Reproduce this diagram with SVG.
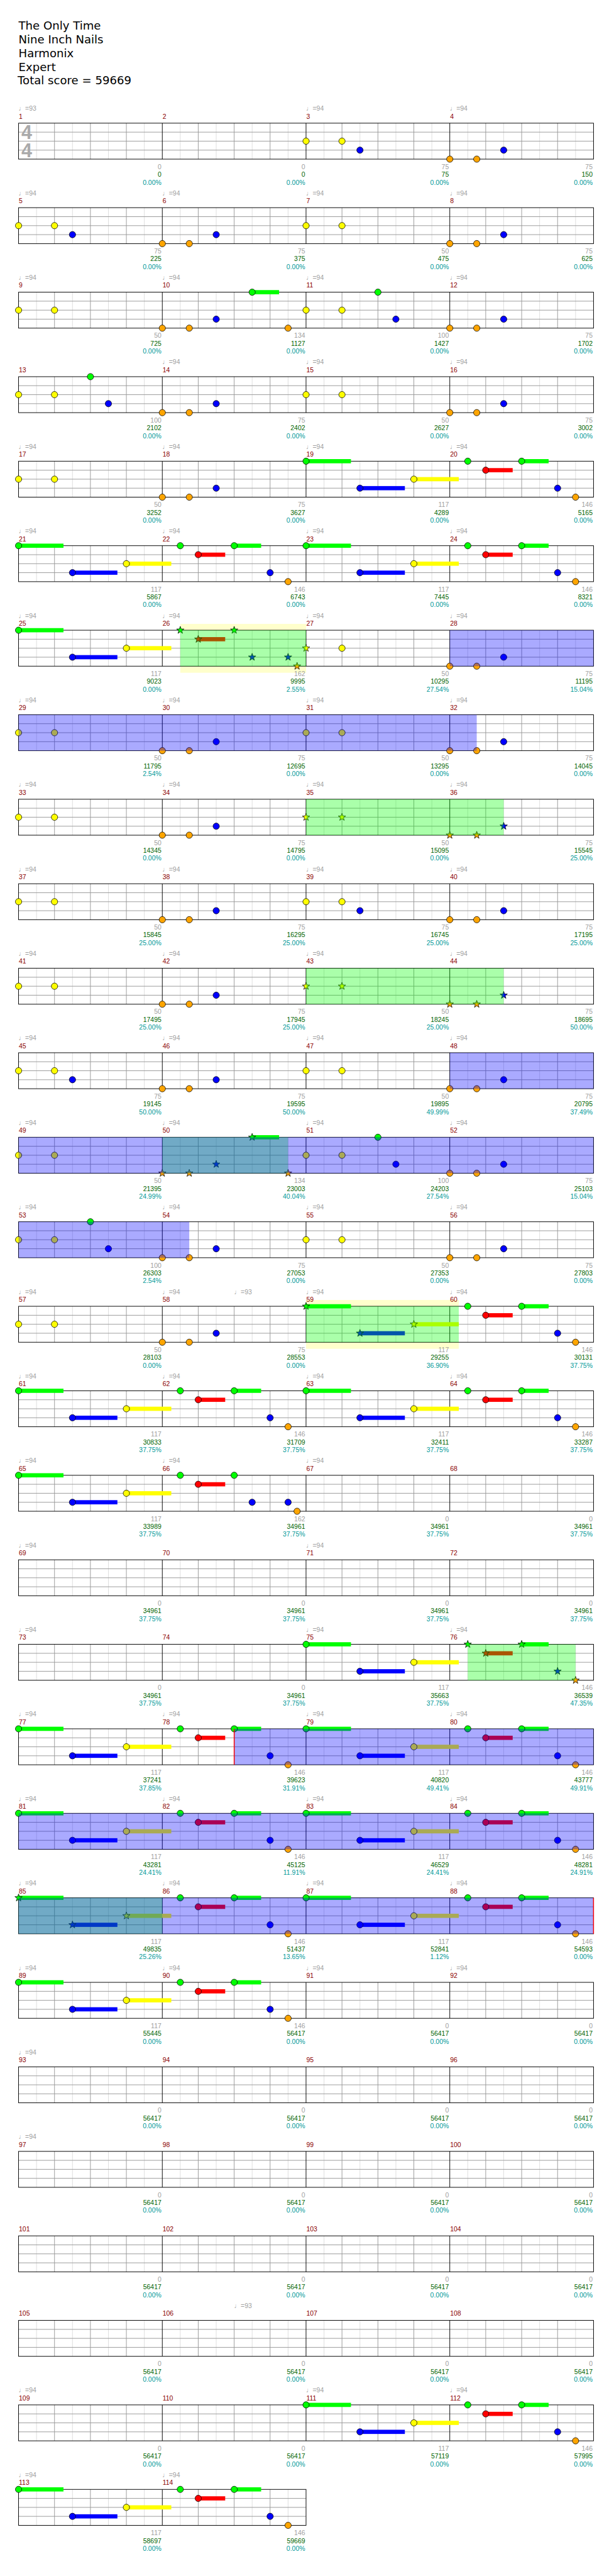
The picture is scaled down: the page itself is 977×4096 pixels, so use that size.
<svg xmlns="http://www.w3.org/2000/svg" xmlns:xlink="http://www.w3.org/1999/xlink" width="977" height="4096" viewBox="0 0 977 4096">
<style>
text{font-family:"Liberation Sans",Arial,sans-serif;font-size:11px}
.hd{font-family:"DejaVu Sans",sans-serif;font-size:19px;fill:#000}
.ts{font-family:"Liberation Sans",Arial,sans-serif;font-size:32px;font-weight:bold;fill:#aaa;text-anchor:middle}
.t{fill:#a0a0a0}
.n{fill:#8b0000}
.s{fill:#a0a0a0;text-anchor:end}
.c{fill:#006400;text-anchor:end}
.p{fill:#009999;text-anchor:end}
.G{fill:#00ff00}.R{fill:#ff0000}.Y{fill:#ffff00}.B{fill:#0000ff}.O{fill:#ffa500}
circle,.st{stroke:#000;stroke-width:0.8}
.og{fill:#00ff00;fill-opacity:0.333}
.ob{fill:#0000ff;fill-opacity:0.333}
.yb{fill:#ffffcc}
.lt{stroke:#dddddd;stroke-width:1;fill:none}
.gr{stroke:#999999;stroke-width:1;fill:none}
.bk{stroke:#000;stroke-width:1;fill:none}
</style>
<defs>
<g id="staff">
<rect x="0" y="0" width="960" height="60" fill="#fff"/>
<path class="lt" d="M30,0v60M90,0v60M150,0v60M210,0v60M270,0v60M330,0v60M390,0v60M450,0v60M510,0v60M570,0v60M630,0v60M690,0v60M750,0v60M810,0v60M870,0v60M930,0v60"/>
<path class="gr" d="M60,0v60M120,0v60M180,0v60M300,0v60M360,0v60M420,0v60M540,0v60M600,0v60M660,0v60M780,0v60M840,0v60M900,0v60M0,15h960M0,30h960M0,45h960"/>
<path class="bk" d="M240,0v60M480,0v60M720,0v60"/>
<rect class="bk" x="0" y="0" width="960" height="60"/>
</g>
<g id="staff2">
<rect x="0" y="0" width="480" height="60" fill="#fff"/>
<path class="lt" d="M30,0v60M90,0v60M150,0v60M210,0v60M270,0v60M330,0v60M390,0v60M450,0v60"/>
<path class="gr" d="M60,0v60M120,0v60M180,0v60M300,0v60M360,0v60M420,0v60M0,15h480M0,30h480M0,45h480"/>
<path class="bk" d="M240,0v60"/>
<rect class="bk" x="0" y="0" width="480" height="60"/>
</g>
<path id="sp" d="M0,-6.5L1.53,-2.1L6.18,-2.01L2.47,0.8L3.82,5.26L0,2.6L-3.82,5.26L-2.47,0.8L-6.18,-2.01L-1.53,-2.1Z"/>
<g id="yy"><circle class="Y" cx="0" cy="30" r="5.3"/><circle class="Y" cx="60" cy="30" r="5.3"/></g>
<g id="oob"><circle class="O" cx="0" cy="60" r="5.3"/><circle class="O" cx="45" cy="60" r="5.3"/><circle class="B" cx="90" cy="45" r="5.3"/></g>
<g id="riff">
<rect class="G" x="0" y="-3.5" width="75" height="7"/><rect class="B" x="90" y="41.5" width="75" height="7"/><rect class="Y" x="180" y="26.5" width="75" height="7"/><rect class="R" x="300" y="11.5" width="45" height="7"/><rect class="G" x="360" y="-3.5" width="45" height="7"/>
<circle class="G" cx="0" cy="0" r="5.3"/><circle class="B" cx="90" cy="45" r="5.3"/><circle class="Y" cx="180" cy="30" r="5.3"/><circle class="G" cx="270" cy="0" r="5.3"/><circle class="R" cx="300" cy="15" r="5.3"/><circle class="G" cx="360" cy="0" r="5.3"/><circle class="B" cx="420" cy="45" r="5.3"/><circle class="O" cx="450" cy="60" r="5.3"/>
</g>
<g id="riffA">
<rect class="G" x="0" y="-3.5" width="75" height="7"/><rect class="B" x="90" y="41.5" width="75" height="7"/><rect class="Y" x="180" y="26.5" width="75" height="7"/>
<circle class="G" cx="0" cy="0" r="5.3"/><circle class="B" cx="90" cy="45" r="5.3"/><circle class="Y" cx="180" cy="30" r="5.3"/>
</g>
<g id="riffB">
<rect class="R" x="300" y="11.5" width="45" height="7"/><rect class="G" x="360" y="-3.5" width="45" height="7"/>
<circle class="G" cx="270" cy="0" r="5.3"/><circle class="R" cx="300" cy="15" r="5.3"/><circle class="G" cx="360" cy="0" r="5.3"/><circle class="B" cx="420" cy="45" r="5.3"/><circle class="O" cx="450" cy="60" r="5.3"/>
</g>
</defs>
<g transform="scale(0.953)">
<rect x="0" y="0" width="1025" height="4300" fill="#fff"/>
<g id="header">
<text class="hd" x="31" y="49.5">The Only Time</text>
<text class="hd" x="31" y="72.5">Nine Inch Nails</text>
<text class="hd" x="31" y="95.5">Harmonix</text>
<text class="hd" x="31" y="118.5">Expert</text>
<text class="hd" x="29.5" y="141">Total score = 59669</text>
</g>

<g id="row-1" transform="translate(31,205.5)">
<use href="#staff"/>
<text class="ts" x="13.5" y="26.5">4</text><text class="ts" x="13.5" y="56.5">4</text>
<use href="#yy" x="480"/><circle class="B" cx="570" cy="45" r="5.3"/><use href="#oob" x="720"/>
<text class="t" x="0" y="-20.5">♩=93</text><text class="t" x="480" y="-20.5">♩=94</text><text class="t" x="720" y="-20.5">♩=94</text>
<text class="n" x="0.5" y="-7.5">1</text><text class="n" x="240.5" y="-7.5">2</text><text class="n" x="480.5" y="-7.5">3</text><text class="n" x="720.5" y="-7.5">4</text>
<text class="s" x="238.5" y="76.5">0</text><text class="c" x="238.5" y="89.5">0</text><text class="p" x="238.5" y="102.5">0.00%</text>
<text class="s" x="478.5" y="76.5">0</text><text class="c" x="478.5" y="89.5">0</text><text class="p" x="478.5" y="102.5">0.00%</text>
<text class="s" x="718.5" y="76.5">75</text><text class="c" x="718.5" y="89.5">75</text><text class="p" x="718.5" y="102.5">0.00%</text>
<text class="s" x="958.5" y="76.5">75</text><text class="c" x="958.5" y="89.5">150</text><text class="p" x="958.5" y="102.5">0.00%</text>
</g>

<g id="row-5" transform="translate(31,346.5)">
<use href="#staff"/>
<use href="#yy" x="0"/><circle class="B" cx="90" cy="45" r="5.3"/><use href="#oob" x="240"/><use href="#yy" x="480"/><use href="#oob" x="720"/>
<text class="t" x="0" y="-20.5">♩=94</text><text class="t" x="240" y="-20.5">♩=94</text><text class="t" x="480" y="-20.5">♩=94</text><text class="t" x="720" y="-20.5">♩=94</text>
<text class="n" x="0.5" y="-7.5">5</text><text class="n" x="240.5" y="-7.5">6</text><text class="n" x="480.5" y="-7.5">7</text><text class="n" x="720.5" y="-7.5">8</text>
<text class="s" x="238.5" y="76.5">75</text><text class="c" x="238.5" y="89.5">225</text><text class="p" x="238.5" y="102.5">0.00%</text>
<text class="s" x="478.5" y="76.5">75</text><text class="c" x="478.5" y="89.5">375</text><text class="p" x="478.5" y="102.5">0.00%</text>
<text class="s" x="718.5" y="76.5">50</text><text class="c" x="718.5" y="89.5">475</text><text class="p" x="718.5" y="102.5">0.00%</text>
<text class="s" x="958.5" y="76.5">75</text><text class="c" x="958.5" y="89.5">625</text><text class="p" x="958.5" y="102.5">0.00%</text>
</g>

<g id="row-9" transform="translate(31,487.5)">
<use href="#staff"/>
<rect class="G" x="390" y="-3.5" width="45" height="7"/>
<use href="#yy" x="0"/><use href="#oob" x="240"/><circle class="G" cx="390" cy="0" r="5.3"/><circle class="O" cx="450" cy="60" r="5.3"/><use href="#yy" x="480"/><circle class="G" cx="600" cy="0" r="5.3"/><circle class="B" cx="630" cy="45" r="5.3"/><use href="#oob" x="720"/>
<text class="t" x="0" y="-20.5">♩=94</text><text class="t" x="240" y="-20.5">♩=94</text><text class="t" x="480" y="-20.5">♩=94</text><text class="t" x="720" y="-20.5">♩=94</text>
<text class="n" x="0.5" y="-7.5">9</text><text class="n" x="240.5" y="-7.5">10</text><text class="n" x="480.5" y="-7.5">11</text><text class="n" x="720.5" y="-7.5">12</text>
<text class="s" x="238.5" y="76.5">50</text><text class="c" x="238.5" y="89.5">725</text><text class="p" x="238.5" y="102.5">0.00%</text>
<text class="s" x="478.5" y="76.5">134</text><text class="c" x="478.5" y="89.5">1127</text><text class="p" x="478.5" y="102.5">0.00%</text>
<text class="s" x="718.5" y="76.5">100</text><text class="c" x="718.5" y="89.5">1427</text><text class="p" x="718.5" y="102.5">0.00%</text>
<text class="s" x="958.5" y="76.5">75</text><text class="c" x="958.5" y="89.5">1702</text><text class="p" x="958.5" y="102.5">0.00%</text>
</g>

<g id="row-13" transform="translate(31,628.5)">
<use href="#staff"/>
<use href="#yy" x="0"/><circle class="G" cx="120" cy="0" r="5.3"/><circle class="B" cx="150" cy="45" r="5.3"/><use href="#oob" x="240"/><use href="#yy" x="480"/><use href="#oob" x="720"/>
<text class="t" x="240" y="-20.5">♩=94</text><text class="t" x="480" y="-20.5">♩=94</text><text class="t" x="720" y="-20.5">♩=94</text>
<text class="n" x="0.5" y="-7.5">13</text><text class="n" x="240.5" y="-7.5">14</text><text class="n" x="480.5" y="-7.5">15</text><text class="n" x="720.5" y="-7.5">16</text>
<text class="s" x="238.5" y="76.5">100</text><text class="c" x="238.5" y="89.5">2102</text><text class="p" x="238.5" y="102.5">0.00%</text>
<text class="s" x="478.5" y="76.5">75</text><text class="c" x="478.5" y="89.5">2402</text><text class="p" x="478.5" y="102.5">0.00%</text>
<text class="s" x="718.5" y="76.5">50</text><text class="c" x="718.5" y="89.5">2627</text><text class="p" x="718.5" y="102.5">0.00%</text>
<text class="s" x="958.5" y="76.5">75</text><text class="c" x="958.5" y="89.5">3002</text><text class="p" x="958.5" y="102.5">0.00%</text>
</g>

<g id="row-17" transform="translate(31,769.5)">
<use href="#staff"/>
<use href="#yy" x="0"/><use href="#oob" x="240"/><use href="#riff" x="480"/>
<text class="t" x="0" y="-20.5">♩=94</text><text class="t" x="240" y="-20.5">♩=94</text><text class="t" x="480" y="-20.5">♩=94</text><text class="t" x="720" y="-20.5">♩=94</text>
<text class="n" x="0.5" y="-7.5">17</text><text class="n" x="240.5" y="-7.5">18</text><text class="n" x="480.5" y="-7.5">19</text><text class="n" x="720.5" y="-7.5">20</text>
<text class="s" x="238.5" y="76.5">50</text><text class="c" x="238.5" y="89.5">3252</text><text class="p" x="238.5" y="102.5">0.00%</text>
<text class="s" x="478.5" y="76.5">75</text><text class="c" x="478.5" y="89.5">3627</text><text class="p" x="478.5" y="102.5">0.00%</text>
<text class="s" x="718.5" y="76.5">117</text><text class="c" x="718.5" y="89.5">4289</text><text class="p" x="718.5" y="102.5">0.00%</text>
<text class="s" x="958.5" y="76.5">146</text><text class="c" x="958.5" y="89.5">5165</text><text class="p" x="958.5" y="102.5">0.00%</text>
</g>

<g id="row-21" transform="translate(31,910.5)">
<use href="#staff"/>
<use href="#riff" x="0"/><use href="#riff" x="480"/>
<text class="t" x="0" y="-20.5">♩=94</text><text class="t" x="240" y="-20.5">♩=94</text><text class="t" x="480" y="-20.5">♩=94</text><text class="t" x="720" y="-20.5">♩=94</text>
<text class="n" x="0.5" y="-7.5">21</text><text class="n" x="240.5" y="-7.5">22</text><text class="n" x="480.5" y="-7.5">23</text><text class="n" x="720.5" y="-7.5">24</text>
<text class="s" x="238.5" y="76.5">117</text><text class="c" x="238.5" y="89.5">5867</text><text class="p" x="238.5" y="102.5">0.00%</text>
<text class="s" x="478.5" y="76.5">146</text><text class="c" x="478.5" y="89.5">6743</text><text class="p" x="478.5" y="102.5">0.00%</text>
<text class="s" x="718.5" y="76.5">117</text><text class="c" x="718.5" y="89.5">7445</text><text class="p" x="718.5" y="102.5">0.00%</text>
<text class="s" x="958.5" y="76.5">146</text><text class="c" x="958.5" y="89.5">8321</text><text class="p" x="958.5" y="102.5">0.00%</text>
</g>

<g id="row-25" transform="translate(31,1051.5)">
<rect class="yb" x="270" y="-10.5" width="210" height="81.5"/>
<use href="#staff"/>
<use href="#riffA" x="0"/><rect class="R" x="300" y="11.5" width="45" height="7"/>
<use class="G st" href="#sp" x="270" y="0"/><use class="R st" href="#sp" x="300" y="15"/><use class="G st" href="#sp" x="360" y="0"/><use class="B st" href="#sp" x="390" y="45"/><use class="B st" href="#sp" x="450" y="45"/><use class="O st" href="#sp" x="465" y="60"/><use class="Y st" href="#sp" x="480" y="30"/>
<circle class="Y" cx="540" cy="30" r="5.3"/><use href="#oob" x="720"/>
<rect class="og" x="270" y="0" width="210" height="60"/><rect class="ob" x="720" y="0" width="240" height="60"/>
<text class="t" x="0" y="-20.5">♩=94</text><text class="t" x="240" y="-20.5">♩=94</text><text class="t" x="480" y="-20.5">♩=94</text><text class="t" x="720" y="-20.5">♩=94</text>
<text class="n" x="0.5" y="-7.5">25</text><text class="n" x="240.5" y="-7.5">26</text><text class="n" x="480.5" y="-7.5">27</text><text class="n" x="720.5" y="-7.5">28</text>
<text class="s" x="238.5" y="76.5">117</text><text class="c" x="238.5" y="89.5">9023</text><text class="p" x="238.5" y="102.5">0.00%</text>
<text class="s" x="478.5" y="76.5">162</text><text class="c" x="478.5" y="89.5">9995</text><text class="p" x="478.5" y="102.5">2.55%</text>
<text class="s" x="718.5" y="76.5">50</text><text class="c" x="718.5" y="89.5">10295</text><text class="p" x="718.5" y="102.5">27.54%</text>
<text class="s" x="958.5" y="76.5">75</text><text class="c" x="958.5" y="89.5">11195</text><text class="p" x="958.5" y="102.5">15.04%</text>
</g>

<g id="row-29" transform="translate(31,1192.5)">
<use href="#staff"/>
<use href="#yy" x="0"/><use href="#oob" x="240"/><use href="#yy" x="480"/><use href="#oob" x="720"/>
<rect class="ob" x="0" y="0" width="765" height="60"/>
<text class="t" x="0" y="-20.5">♩=94</text><text class="t" x="240" y="-20.5">♩=94</text><text class="t" x="480" y="-20.5">♩=94</text><text class="t" x="720" y="-20.5">♩=94</text>
<text class="n" x="0.5" y="-7.5">29</text><text class="n" x="240.5" y="-7.5">30</text><text class="n" x="480.5" y="-7.5">31</text><text class="n" x="720.5" y="-7.5">32</text>
<text class="s" x="238.5" y="76.5">50</text><text class="c" x="238.5" y="89.5">11795</text><text class="p" x="238.5" y="102.5">2.54%</text>
<text class="s" x="478.5" y="76.5">75</text><text class="c" x="478.5" y="89.5">12695</text><text class="p" x="478.5" y="102.5">0.00%</text>
<text class="s" x="718.5" y="76.5">50</text><text class="c" x="718.5" y="89.5">13295</text><text class="p" x="718.5" y="102.5">0.00%</text>
<text class="s" x="958.5" y="76.5">75</text><text class="c" x="958.5" y="89.5">14045</text><text class="p" x="958.5" y="102.5">0.00%</text>
</g>

<g id="row-33" transform="translate(31,1333.5)">
<use href="#staff"/>
<use href="#yy" x="0"/><use href="#oob" x="240"/>
<use class="Y st" href="#sp" x="480" y="30"/><use class="Y st" href="#sp" x="540" y="30"/><use class="O st" href="#sp" x="720" y="60"/><use class="O st" href="#sp" x="765" y="60"/><use class="B st" href="#sp" x="810" y="45"/>
<rect class="og" x="480" y="0" width="330" height="60"/>
<text class="t" x="0" y="-20.5">♩=94</text><text class="t" x="240" y="-20.5">♩=94</text><text class="t" x="480" y="-20.5">♩=94</text><text class="t" x="720" y="-20.5">♩=94</text>
<text class="n" x="0.5" y="-7.5">33</text><text class="n" x="240.5" y="-7.5">34</text><text class="n" x="480.5" y="-7.5">35</text><text class="n" x="720.5" y="-7.5">36</text>
<text class="s" x="238.5" y="76.5">50</text><text class="c" x="238.5" y="89.5">14345</text><text class="p" x="238.5" y="102.5">0.00%</text>
<text class="s" x="478.5" y="76.5">75</text><text class="c" x="478.5" y="89.5">14795</text><text class="p" x="478.5" y="102.5">0.00%</text>
<text class="s" x="718.5" y="76.5">50</text><text class="c" x="718.5" y="89.5">15095</text><text class="p" x="718.5" y="102.5">0.00%</text>
<text class="s" x="958.5" y="76.5">75</text><text class="c" x="958.5" y="89.5">15545</text><text class="p" x="958.5" y="102.5">25.00%</text>
</g>

<g id="row-37" transform="translate(31,1474.5)">
<use href="#staff"/>
<use href="#yy" x="0"/><use href="#oob" x="240"/><use href="#yy" x="480"/><circle class="B" cx="570" cy="45" r="5.3"/><use href="#oob" x="720"/>
<text class="t" x="0" y="-20.5">♩=94</text><text class="t" x="240" y="-20.5">♩=94</text><text class="t" x="480" y="-20.5">♩=94</text><text class="t" x="720" y="-20.5">♩=94</text>
<text class="n" x="0.5" y="-7.5">37</text><text class="n" x="240.5" y="-7.5">38</text><text class="n" x="480.5" y="-7.5">39</text><text class="n" x="720.5" y="-7.5">40</text>
<text class="s" x="238.5" y="76.5">50</text><text class="c" x="238.5" y="89.5">15845</text><text class="p" x="238.5" y="102.5">25.00%</text>
<text class="s" x="478.5" y="76.5">75</text><text class="c" x="478.5" y="89.5">16295</text><text class="p" x="478.5" y="102.5">25.00%</text>
<text class="s" x="718.5" y="76.5">75</text><text class="c" x="718.5" y="89.5">16745</text><text class="p" x="718.5" y="102.5">25.00%</text>
<text class="s" x="958.5" y="76.5">75</text><text class="c" x="958.5" y="89.5">17195</text><text class="p" x="958.5" y="102.5">25.00%</text>
</g>

<g id="row-41" transform="translate(31,1615.5)">
<use href="#staff"/>
<use href="#yy" x="0"/><use href="#oob" x="240"/>
<use class="Y st" href="#sp" x="480" y="30"/><use class="Y st" href="#sp" x="540" y="30"/><use class="O st" href="#sp" x="720" y="60"/><use class="O st" href="#sp" x="765" y="60"/><use class="B st" href="#sp" x="810" y="45"/>
<rect class="og" x="480" y="0" width="330" height="60"/>
<text class="t" x="0" y="-20.5">♩=94</text><text class="t" x="240" y="-20.5">♩=94</text><text class="t" x="480" y="-20.5">♩=94</text><text class="t" x="720" y="-20.5">♩=94</text>
<text class="n" x="0.5" y="-7.5">41</text><text class="n" x="240.5" y="-7.5">42</text><text class="n" x="480.5" y="-7.5">43</text><text class="n" x="720.5" y="-7.5">44</text>
<text class="s" x="238.5" y="76.5">50</text><text class="c" x="238.5" y="89.5">17495</text><text class="p" x="238.5" y="102.5">25.00%</text>
<text class="s" x="478.5" y="76.5">75</text><text class="c" x="478.5" y="89.5">17945</text><text class="p" x="478.5" y="102.5">25.00%</text>
<text class="s" x="718.5" y="76.5">50</text><text class="c" x="718.5" y="89.5">18245</text><text class="p" x="718.5" y="102.5">25.00%</text>
<text class="s" x="958.5" y="76.5">75</text><text class="c" x="958.5" y="89.5">18695</text><text class="p" x="958.5" y="102.5">50.00%</text>
</g>

<g id="row-45" transform="translate(31,1756.5)">
<use href="#staff"/>
<use href="#yy" x="0"/><circle class="B" cx="90" cy="45" r="5.3"/><use href="#oob" x="240"/><use href="#yy" x="480"/><use href="#oob" x="720"/>
<rect class="ob" x="720" y="0" width="240" height="60"/>
<text class="t" x="0" y="-20.5">♩=94</text><text class="t" x="240" y="-20.5">♩=94</text><text class="t" x="480" y="-20.5">♩=94</text><text class="t" x="720" y="-20.5">♩=94</text>
<text class="n" x="0.5" y="-7.5">45</text><text class="n" x="240.5" y="-7.5">46</text><text class="n" x="480.5" y="-7.5">47</text><text class="n" x="720.5" y="-7.5">48</text>
<text class="s" x="238.5" y="76.5">75</text><text class="c" x="238.5" y="89.5">19145</text><text class="p" x="238.5" y="102.5">50.00%</text>
<text class="s" x="478.5" y="76.5">75</text><text class="c" x="478.5" y="89.5">19595</text><text class="p" x="478.5" y="102.5">50.00%</text>
<text class="s" x="718.5" y="76.5">50</text><text class="c" x="718.5" y="89.5">19895</text><text class="p" x="718.5" y="102.5">49.99%</text>
<text class="s" x="958.5" y="76.5">75</text><text class="c" x="958.5" y="89.5">20795</text><text class="p" x="958.5" y="102.5">37.49%</text>
</g>

<g id="row-49" transform="translate(31,1897.5)">
<use href="#staff"/>
<rect class="G" x="390" y="-3.5" width="45" height="7"/>
<use href="#yy" x="0"/>
<use class="O st" href="#sp" x="240" y="60"/><use class="O st" href="#sp" x="285" y="60"/><use class="B st" href="#sp" x="330" y="45"/><use class="G st" href="#sp" x="390" y="0"/><use class="O st" href="#sp" x="450" y="60"/>
<use href="#yy" x="480"/><circle class="G" cx="600" cy="0" r="5.3"/><circle class="B" cx="630" cy="45" r="5.3"/><use href="#oob" x="720"/>
<rect class="og" x="240" y="0" width="210" height="60"/><rect class="ob" x="0" y="0" width="960" height="60"/>
<text class="t" x="0" y="-20.5">♩=94</text><text class="t" x="240" y="-20.5">♩=94</text><text class="t" x="480" y="-20.5">♩=94</text><text class="t" x="720" y="-20.5">♩=94</text>
<text class="n" x="0.5" y="-7.5">49</text><text class="n" x="240.5" y="-7.5">50</text><text class="n" x="480.5" y="-7.5">51</text><text class="n" x="720.5" y="-7.5">52</text>
<text class="s" x="238.5" y="76.5">50</text><text class="c" x="238.5" y="89.5">21395</text><text class="p" x="238.5" y="102.5">24.99%</text>
<text class="s" x="478.5" y="76.5">134</text><text class="c" x="478.5" y="89.5">23003</text><text class="p" x="478.5" y="102.5">40.04%</text>
<text class="s" x="718.5" y="76.5">100</text><text class="c" x="718.5" y="89.5">24203</text><text class="p" x="718.5" y="102.5">27.54%</text>
<text class="s" x="958.5" y="76.5">75</text><text class="c" x="958.5" y="89.5">25103</text><text class="p" x="958.5" y="102.5">15.04%</text>
</g>

<g id="row-53" transform="translate(31,2038.5)">
<use href="#staff"/>
<use href="#yy" x="0"/><circle class="G" cx="120" cy="0" r="5.3"/><circle class="B" cx="150" cy="45" r="5.3"/><use href="#oob" x="240"/><use href="#yy" x="480"/><use href="#oob" x="720"/>
<rect class="ob" x="0" y="0" width="285" height="60"/>
<text class="t" x="0" y="-20.5">♩=94</text><text class="t" x="240" y="-20.5">♩=94</text><text class="t" x="480" y="-20.5">♩=94</text><text class="t" x="720" y="-20.5">♩=94</text>
<text class="n" x="0.5" y="-7.5">53</text><text class="n" x="240.5" y="-7.5">54</text><text class="n" x="480.5" y="-7.5">55</text><text class="n" x="720.5" y="-7.5">56</text>
<text class="s" x="238.5" y="76.5">100</text><text class="c" x="238.5" y="89.5">26303</text><text class="p" x="238.5" y="102.5">2.54%</text>
<text class="s" x="478.5" y="76.5">75</text><text class="c" x="478.5" y="89.5">27053</text><text class="p" x="478.5" y="102.5">0.00%</text>
<text class="s" x="718.5" y="76.5">50</text><text class="c" x="718.5" y="89.5">27353</text><text class="p" x="718.5" y="102.5">0.00%</text>
<text class="s" x="958.5" y="76.5">75</text><text class="c" x="958.5" y="89.5">27803</text><text class="p" x="958.5" y="102.5">0.00%</text>
</g>

<g id="row-57" transform="translate(31,2179.5)">
<rect class="yb" x="480" y="-10.5" width="255" height="81.5"/>
<use href="#staff"/>
<use href="#yy" x="0"/><use href="#oob" x="240"/>
<rect class="G" x="480" y="-3.5" width="75" height="7"/><rect class="B" x="570" y="41.5" width="75" height="7"/><rect class="Y" x="660" y="26.5" width="75" height="7"/>
<use class="G st" href="#sp" x="480" y="0"/><use class="B st" href="#sp" x="570" y="45"/><use class="Y st" href="#sp" x="660" y="30"/>
<use href="#riffB" x="480"/>
<rect class="og" x="480" y="0" width="255" height="60"/>
<text class="t" x="0" y="-20.5">♩=94</text><text class="t" x="240" y="-20.5">♩=94</text><text class="t" x="360" y="-20.5">♩=93</text><text class="t" x="480" y="-20.5">♩=94</text><text class="t" x="720" y="-20.5">♩=94</text>
<text class="n" x="0.5" y="-7.5">57</text><text class="n" x="240.5" y="-7.5">58</text><text class="n" x="480.5" y="-7.5">59</text><text class="n" x="720.5" y="-7.5">60</text>
<text class="s" x="238.5" y="76.5">50</text><text class="c" x="238.5" y="89.5">28103</text><text class="p" x="238.5" y="102.5">0.00%</text>
<text class="s" x="478.5" y="76.5">75</text><text class="c" x="478.5" y="89.5">28553</text><text class="p" x="478.5" y="102.5">0.00%</text>
<text class="s" x="718.5" y="76.5">117</text><text class="c" x="718.5" y="89.5">29255</text><text class="p" x="718.5" y="102.5">36.90%</text>
<text class="s" x="958.5" y="76.5">146</text><text class="c" x="958.5" y="89.5">30131</text><text class="p" x="958.5" y="102.5">37.75%</text>
</g>

<g id="row-61" transform="translate(31,2320.5)">
<use href="#staff"/>
<use href="#riff" x="0"/><use href="#riff" x="480"/>
<text class="t" x="0" y="-20.5">♩=94</text><text class="t" x="240" y="-20.5">♩=94</text><text class="t" x="480" y="-20.5">♩=94</text><text class="t" x="720" y="-20.5">♩=94</text>
<text class="n" x="0.5" y="-7.5">61</text><text class="n" x="240.5" y="-7.5">62</text><text class="n" x="480.5" y="-7.5">63</text><text class="n" x="720.5" y="-7.5">64</text>
<text class="s" x="238.5" y="76.5">117</text><text class="c" x="238.5" y="89.5">30833</text><text class="p" x="238.5" y="102.5">37.75%</text>
<text class="s" x="478.5" y="76.5">146</text><text class="c" x="478.5" y="89.5">31709</text><text class="p" x="478.5" y="102.5">37.75%</text>
<text class="s" x="718.5" y="76.5">117</text><text class="c" x="718.5" y="89.5">32411</text><text class="p" x="718.5" y="102.5">37.75%</text>
<text class="s" x="958.5" y="76.5">146</text><text class="c" x="958.5" y="89.5">33287</text><text class="p" x="958.5" y="102.5">37.75%</text>
</g>

<g id="row-65" transform="translate(31,2461.5)">
<use href="#staff"/>
<use href="#riffA" x="0"/><rect class="R" x="300" y="11.5" width="45" height="7"/>
<circle class="G" cx="270" cy="0" r="5.3"/><circle class="R" cx="300" cy="15" r="5.3"/><circle class="G" cx="360" cy="0" r="5.3"/><circle class="B" cx="390" cy="45" r="5.3"/><circle class="B" cx="450" cy="45" r="5.3"/><circle class="O" cx="465" cy="60" r="5.3"/>
<text class="t" x="0" y="-20.5">♩=94</text><text class="t" x="240" y="-20.5">♩=94</text><text class="t" x="480" y="-20.5">♩=94</text>
<text class="n" x="0.5" y="-7.5">65</text><text class="n" x="240.5" y="-7.5">66</text><text class="n" x="480.5" y="-7.5">67</text><text class="n" x="720.5" y="-7.5">68</text>
<text class="s" x="238.5" y="76.5">117</text><text class="c" x="238.5" y="89.5">33989</text><text class="p" x="238.5" y="102.5">37.75%</text>
<text class="s" x="478.5" y="76.5">162</text><text class="c" x="478.5" y="89.5">34961</text><text class="p" x="478.5" y="102.5">37.75%</text>
<text class="s" x="718.5" y="76.5">0</text><text class="c" x="718.5" y="89.5">34961</text><text class="p" x="718.5" y="102.5">37.75%</text>
<text class="s" x="958.5" y="76.5">0</text><text class="c" x="958.5" y="89.5">34961</text><text class="p" x="958.5" y="102.5">37.75%</text>
</g>

<g id="row-69" transform="translate(31,2602.5)">
<use href="#staff"/>
<text class="t" x="0" y="-20.5">♩=94</text><text class="t" x="480" y="-20.5">♩=94</text>
<text class="n" x="0.5" y="-7.5">69</text><text class="n" x="240.5" y="-7.5">70</text><text class="n" x="480.5" y="-7.5">71</text><text class="n" x="720.5" y="-7.5">72</text>
<text class="s" x="238.5" y="76.5">0</text><text class="c" x="238.5" y="89.5">34961</text><text class="p" x="238.5" y="102.5">37.75%</text>
<text class="s" x="478.5" y="76.5">0</text><text class="c" x="478.5" y="89.5">34961</text><text class="p" x="478.5" y="102.5">37.75%</text>
<text class="s" x="718.5" y="76.5">0</text><text class="c" x="718.5" y="89.5">34961</text><text class="p" x="718.5" y="102.5">37.75%</text>
<text class="s" x="958.5" y="76.5">0</text><text class="c" x="958.5" y="89.5">34961</text><text class="p" x="958.5" y="102.5">37.75%</text>
</g>

<g id="row-73" transform="translate(31,2743.5)">
<use href="#staff"/>
<use href="#riffA" x="480"/>
<rect class="R" x="780" y="11.5" width="45" height="7"/><rect class="G" x="840" y="-3.5" width="45" height="7"/>
<use class="G st" href="#sp" x="750" y="0"/><use class="R st" href="#sp" x="780" y="15"/><use class="G st" href="#sp" x="840" y="0"/><use class="B st" href="#sp" x="900" y="45"/><use class="O st" href="#sp" x="930" y="60"/>
<rect class="og" x="750" y="0" width="180" height="60"/>
<text class="t" x="0" y="-20.5">♩=94</text><text class="t" x="480" y="-20.5">♩=94</text><text class="t" x="720" y="-20.5">♩=94</text>
<text class="n" x="0.5" y="-7.5">73</text><text class="n" x="240.5" y="-7.5">74</text><text class="n" x="480.5" y="-7.5">75</text><text class="n" x="720.5" y="-7.5">76</text>
<text class="s" x="238.5" y="76.5">0</text><text class="c" x="238.5" y="89.5">34961</text><text class="p" x="238.5" y="102.5">37.75%</text>
<text class="s" x="478.5" y="76.5">0</text><text class="c" x="478.5" y="89.5">34961</text><text class="p" x="478.5" y="102.5">37.75%</text>
<text class="s" x="718.5" y="76.5">117</text><text class="c" x="718.5" y="89.5">35663</text><text class="p" x="718.5" y="102.5">37.75%</text>
<text class="s" x="958.5" y="76.5">146</text><text class="c" x="958.5" y="89.5">36539</text><text class="p" x="958.5" y="102.5">47.35%</text>
</g>

<g id="row-77" transform="translate(31,2884.5)">
<use href="#staff"/>
<use href="#riff" x="0"/><use href="#riff" x="480"/>
<rect class="ob" x="360" y="0" width="600" height="60"/>
<path d="M360,0v60" stroke="#ff0000" stroke-width="1.5"/>
<text class="t" x="0" y="-20.5">♩=94</text><text class="t" x="240" y="-20.5">♩=94</text><text class="t" x="480" y="-20.5">♩=94</text><text class="t" x="720" y="-20.5">♩=94</text>
<text class="n" x="0.5" y="-7.5">77</text><text class="n" x="240.5" y="-7.5">78</text><text class="n" x="480.5" y="-7.5">79</text><text class="n" x="720.5" y="-7.5">80</text>
<text class="s" x="238.5" y="76.5">117</text><text class="c" x="238.5" y="89.5">37241</text><text class="p" x="238.5" y="102.5">37.85%</text>
<text class="s" x="478.5" y="76.5">146</text><text class="c" x="478.5" y="89.5">39623</text><text class="p" x="478.5" y="102.5">31.91%</text>
<text class="s" x="718.5" y="76.5">117</text><text class="c" x="718.5" y="89.5">40820</text><text class="p" x="718.5" y="102.5">49.41%</text>
<text class="s" x="958.5" y="76.5">146</text><text class="c" x="958.5" y="89.5">43777</text><text class="p" x="958.5" y="102.5">49.91%</text>
</g>

<g id="row-81" transform="translate(31,3025.5)">
<use href="#staff"/>
<use href="#riff" x="0"/><use href="#riff" x="480"/>
<rect class="ob" x="0" y="0" width="960" height="60"/>
<text class="t" x="0" y="-20.5">♩=94</text><text class="t" x="240" y="-20.5">♩=94</text><text class="t" x="480" y="-20.5">♩=94</text><text class="t" x="720" y="-20.5">♩=94</text>
<text class="n" x="0.5" y="-7.5">81</text><text class="n" x="240.5" y="-7.5">82</text><text class="n" x="480.5" y="-7.5">83</text><text class="n" x="720.5" y="-7.5">84</text>
<text class="s" x="238.5" y="76.5">117</text><text class="c" x="238.5" y="89.5">43281</text><text class="p" x="238.5" y="102.5">24.41%</text>
<text class="s" x="478.5" y="76.5">146</text><text class="c" x="478.5" y="89.5">45125</text><text class="p" x="478.5" y="102.5">11.91%</text>
<text class="s" x="718.5" y="76.5">117</text><text class="c" x="718.5" y="89.5">46529</text><text class="p" x="718.5" y="102.5">24.41%</text>
<text class="s" x="958.5" y="76.5">146</text><text class="c" x="958.5" y="89.5">48281</text><text class="p" x="958.5" y="102.5">24.91%</text>
</g>

<g id="row-85" transform="translate(31,3166.5)">
<use href="#staff"/>
<rect class="G" x="0" y="-3.5" width="75" height="7"/><rect class="B" x="90" y="41.5" width="75" height="7"/><rect class="Y" x="180" y="26.5" width="75" height="7"/>
<use class="G st" href="#sp" x="0" y="0"/><use class="B st" href="#sp" x="90" y="45"/><use class="Y st" href="#sp" x="180" y="30"/>
<use href="#riffB" x="0"/><use href="#riff" x="480"/>
<rect class="og" x="0" y="0" width="240" height="60"/><rect class="ob" x="0" y="0" width="960" height="60"/>
<path d="M960,0v60" stroke="#ff0000" stroke-width="1.5"/>
<text class="t" x="0" y="-20.5">♩=94</text><text class="t" x="240" y="-20.5">♩=94</text><text class="t" x="480" y="-20.5">♩=94</text><text class="t" x="720" y="-20.5">♩=94</text>
<text class="n" x="0.5" y="-7.5">85</text><text class="n" x="240.5" y="-7.5">86</text><text class="n" x="480.5" y="-7.5">87</text><text class="n" x="720.5" y="-7.5">88</text>
<text class="s" x="238.5" y="76.5">117</text><text class="c" x="238.5" y="89.5">49835</text><text class="p" x="238.5" y="102.5">25.26%</text>
<text class="s" x="478.5" y="76.5">146</text><text class="c" x="478.5" y="89.5">51437</text><text class="p" x="478.5" y="102.5">13.65%</text>
<text class="s" x="718.5" y="76.5">117</text><text class="c" x="718.5" y="89.5">52841</text><text class="p" x="718.5" y="102.5">1.12%</text>
<text class="s" x="958.5" y="76.5">146</text><text class="c" x="958.5" y="89.5">54593</text><text class="p" x="958.5" y="102.5">0.00%</text>
</g>

<g id="row-89" transform="translate(31,3307.5)">
<use href="#staff"/>
<use href="#riff" x="0"/>
<text class="t" x="0" y="-20.5">♩=94</text><text class="t" x="240" y="-20.5">♩=94</text><text class="t" x="480" y="-20.5">♩=94</text><text class="t" x="720" y="-20.5">♩=94</text>
<text class="n" x="0.5" y="-7.5">89</text><text class="n" x="240.5" y="-7.5">90</text><text class="n" x="480.5" y="-7.5">91</text><text class="n" x="720.5" y="-7.5">92</text>
<text class="s" x="238.5" y="76.5">117</text><text class="c" x="238.5" y="89.5">55445</text><text class="p" x="238.5" y="102.5">0.00%</text>
<text class="s" x="478.5" y="76.5">146</text><text class="c" x="478.5" y="89.5">56417</text><text class="p" x="478.5" y="102.5">0.00%</text>
<text class="s" x="718.5" y="76.5">0</text><text class="c" x="718.5" y="89.5">56417</text><text class="p" x="718.5" y="102.5">0.00%</text>
<text class="s" x="958.5" y="76.5">0</text><text class="c" x="958.5" y="89.5">56417</text><text class="p" x="958.5" y="102.5">0.00%</text>
</g>

<g id="row-93" transform="translate(31,3448.5)">
<use href="#staff"/>
<text class="t" x="0" y="-20.5">♩=94</text>
<text class="n" x="0.5" y="-7.5">93</text><text class="n" x="240.5" y="-7.5">94</text><text class="n" x="480.5" y="-7.5">95</text><text class="n" x="720.5" y="-7.5">96</text>
<text class="s" x="238.5" y="76.5">0</text><text class="c" x="238.5" y="89.5">56417</text><text class="p" x="238.5" y="102.5">0.00%</text>
<text class="s" x="478.5" y="76.5">0</text><text class="c" x="478.5" y="89.5">56417</text><text class="p" x="478.5" y="102.5">0.00%</text>
<text class="s" x="718.5" y="76.5">0</text><text class="c" x="718.5" y="89.5">56417</text><text class="p" x="718.5" y="102.5">0.00%</text>
<text class="s" x="958.5" y="76.5">0</text><text class="c" x="958.5" y="89.5">56417</text><text class="p" x="958.5" y="102.5">0.00%</text>
</g>

<g id="row-97" transform="translate(31,3589.5)">
<use href="#staff"/>
<text class="t" x="0" y="-20.5">♩=94</text>
<text class="n" x="0.5" y="-7.5">97</text><text class="n" x="240.5" y="-7.5">98</text><text class="n" x="480.5" y="-7.5">99</text><text class="n" x="720.5" y="-7.5">100</text>
<text class="s" x="238.5" y="76.5">0</text><text class="c" x="238.5" y="89.5">56417</text><text class="p" x="238.5" y="102.5">0.00%</text>
<text class="s" x="478.5" y="76.5">0</text><text class="c" x="478.5" y="89.5">56417</text><text class="p" x="478.5" y="102.5">0.00%</text>
<text class="s" x="718.5" y="76.5">0</text><text class="c" x="718.5" y="89.5">56417</text><text class="p" x="718.5" y="102.5">0.00%</text>
<text class="s" x="958.5" y="76.5">0</text><text class="c" x="958.5" y="89.5">56417</text><text class="p" x="958.5" y="102.5">0.00%</text>
</g>

<g id="row-101" transform="translate(31,3730.5)">
<use href="#staff"/>
<text class="n" x="0.5" y="-7.5">101</text><text class="n" x="240.5" y="-7.5">102</text><text class="n" x="480.5" y="-7.5">103</text><text class="n" x="720.5" y="-7.5">104</text>
<text class="s" x="238.5" y="76.5">0</text><text class="c" x="238.5" y="89.5">56417</text><text class="p" x="238.5" y="102.5">0.00%</text>
<text class="s" x="478.5" y="76.5">0</text><text class="c" x="478.5" y="89.5">56417</text><text class="p" x="478.5" y="102.5">0.00%</text>
<text class="s" x="718.5" y="76.5">0</text><text class="c" x="718.5" y="89.5">56417</text><text class="p" x="718.5" y="102.5">0.00%</text>
<text class="s" x="958.5" y="76.5">0</text><text class="c" x="958.5" y="89.5">56417</text><text class="p" x="958.5" y="102.5">0.00%</text>
</g>

<g id="row-105" transform="translate(31,3871.5)">
<use href="#staff"/>
<text class="t" x="360" y="-20.5">♩=93</text>
<text class="n" x="0.5" y="-7.5">105</text><text class="n" x="240.5" y="-7.5">106</text><text class="n" x="480.5" y="-7.5">107</text><text class="n" x="720.5" y="-7.5">108</text>
<text class="s" x="238.5" y="76.5">0</text><text class="c" x="238.5" y="89.5">56417</text><text class="p" x="238.5" y="102.5">0.00%</text>
<text class="s" x="478.5" y="76.5">0</text><text class="c" x="478.5" y="89.5">56417</text><text class="p" x="478.5" y="102.5">0.00%</text>
<text class="s" x="718.5" y="76.5">0</text><text class="c" x="718.5" y="89.5">56417</text><text class="p" x="718.5" y="102.5">0.00%</text>
<text class="s" x="958.5" y="76.5">0</text><text class="c" x="958.5" y="89.5">56417</text><text class="p" x="958.5" y="102.5">0.00%</text>
</g>

<g id="row-109" transform="translate(31,4012.5)">
<use href="#staff"/>
<use href="#riff" x="480"/>
<text class="t" x="0" y="-20.5">♩=94</text><text class="t" x="480" y="-20.5">♩=94</text><text class="t" x="720" y="-20.5">♩=94</text>
<text class="n" x="0.5" y="-7.5">109</text><text class="n" x="240.5" y="-7.5">110</text><text class="n" x="480.5" y="-7.5">111</text><text class="n" x="720.5" y="-7.5">112</text>
<text class="s" x="238.5" y="76.5">0</text><text class="c" x="238.5" y="89.5">56417</text><text class="p" x="238.5" y="102.5">0.00%</text>
<text class="s" x="478.5" y="76.5">0</text><text class="c" x="478.5" y="89.5">56417</text><text class="p" x="478.5" y="102.5">0.00%</text>
<text class="s" x="718.5" y="76.5">117</text><text class="c" x="718.5" y="89.5">57119</text><text class="p" x="718.5" y="102.5">0.00%</text>
<text class="s" x="958.5" y="76.5">146</text><text class="c" x="958.5" y="89.5">57995</text><text class="p" x="958.5" y="102.5">0.00%</text>
</g>

<g id="row-113" transform="translate(31,4153.5)">
<use href="#staff2"/>
<use href="#riff" x="0"/>
<text class="t" x="0" y="-20.5">♩=94</text><text class="t" x="240" y="-20.5">♩=94</text>
<text class="n" x="0.5" y="-7.5">113</text><text class="n" x="240.5" y="-7.5">114</text>
<text class="s" x="238.5" y="76.5">117</text><text class="c" x="238.5" y="89.5">58697</text><text class="p" x="238.5" y="102.5">0.00%</text>
<text class="s" x="478.5" y="76.5">146</text><text class="c" x="478.5" y="89.5">59669</text><text class="p" x="478.5" y="102.5">0.00%</text>
</g>
</g>
</svg>
